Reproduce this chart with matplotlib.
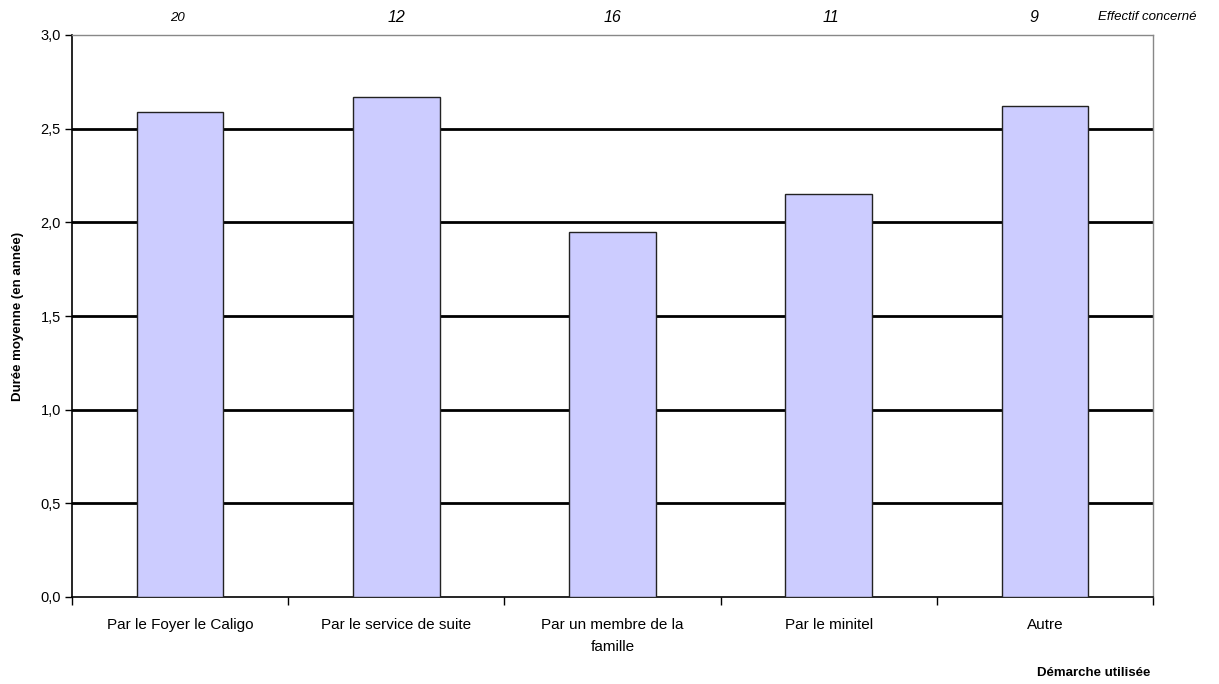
import matplotlib
matplotlib.use("Agg")
import matplotlib.pyplot as plt
import numpy as np

plt.rcParams['font.family'] = ['Liberation Sans', 'DejaVu Sans']

categories = ["Par le Foyer le Caligo", "Par le service de suite",
              "Par un membre de la\nfamille", "Par le minitel", "Autre"]
durations = [2.59, 2.67, 1.95, 2.15, 2.62]
effectifs = ["20", "12", "16", "11", "9"]
yticks = [0.0, 0.5, 1.0, 1.5, 2.0, 2.5, 3.0]
ytick_labels = ["0,0", "0,5", "1,0", "1,5", "2,0", "2,5", "3,0"]

fig = plt.figure(figsize=(12.19, 6.84), dpi=100)
ax = fig.add_axes([72/1219, 1-597/684, (1153-72)/1219, (597-35)/684])

x = np.arange(len(categories))
ax.bar(x, durations, width=0.4, color="#ccccff", edgecolor="#222222", linewidth=1.0, zorder=3)

ax.set_xlim(-0.5, len(categories)-0.5)
ax.set_ylim(0, 3.0)
ax.set_yticks(yticks)
ax.set_yticklabels(ytick_labels, fontsize=10.5)
for y in yticks[1:-1]:
    ax.axhline(y, color="black", linewidth=2.0, zorder=1)

ax.set_xticks(np.arange(-0.5, len(categories)), minor=False)
ax.set_xticklabels([])
ax.set_xticks(x, minor=True)
ax.set_xticklabels(categories, minor=True, fontsize=11, linespacing=1.75, va='top')
ax.tick_params(axis='x', which='major', direction='out', length=6, width=1, color='black')
ax.tick_params(axis='x', which='minor', length=0, pad=15)
ax.tick_params(axis='y', direction='out', length=5, width=1, pad=3)

for s in ['top', 'right']:
    ax.spines[s].set_color('#888888')
    ax.spines[s].set_linewidth(1.0)
for s in ['left', 'bottom']:
    ax.spines[s].set_color('black')
    ax.spines[s].set_linewidth(1.2)

fs = [9.5, 11.5, 11.5, 11.5, 11.5]
offs = [-0.01, 0.0, 0.0, 0.01, -0.05]
for xi, lab, f, o in zip(x, effectifs, fs, offs):
    ax.text(xi + o, 1.0 + 17/562, lab, transform=ax.get_xaxis_transform(),
            ha='center', va='center', fontsize=f, style='italic')
fig.text(1197/1219, 1-17/684, "Effectif concerné", ha='right', va='center',
         fontsize=9.5, style='italic')

fig.text(18/1219, 1-316/684, "Durée moyenne (en année)", rotation=90,
         ha='center', va='center', fontsize=9.5, fontweight='bold')
fig.text(1150/1219, 1-673/684, "Démarche utilisée", ha='right', va='center',
         fontsize=9.5, fontweight='bold')

fig.savefig("out.png", dpi=100)
